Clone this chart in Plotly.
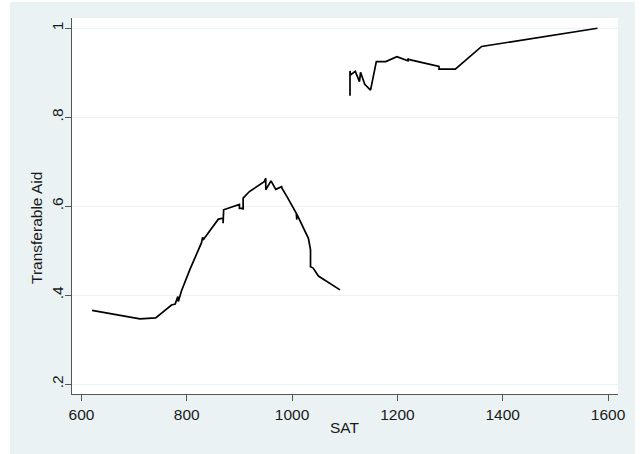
import plotly.graph_objects as go

# Smoothed transferable-aid share by SAT score (two segments, gap between them)
sat_low = [620, 711, 741, 771, 778, 783, 784, 790, 806, 828, 830, 832, 860, 869, 869, 870,
           900, 900, 907, 907, 907, 919, 939, 947, 950, 950, 960, 969, 980, 981, 990,
           1008, 1009, 1009, 1031, 1034, 1035, 1035, 1040, 1050, 1091]
aid_low = [0.366, 0.347, 0.349, 0.378, 0.380, 0.397, 0.386, 0.410, 0.458, 0.518, 0.530, 0.526,
           0.571, 0.573, 0.562, 0.592, 0.604, 0.595, 0.595, 0.592, 0.618, 0.633, 0.650, 0.655,
           0.663, 0.637, 0.657, 0.638, 0.644, 0.640, 0.622, 0.584, 0.570, 0.582, 0.528, 0.502,
           0.502, 0.464, 0.461, 0.443, 0.412]

sat_high = [1110, 1110, 1111, 1120, 1128, 1130, 1138, 1149, 1160, 1178, 1199, 1220, 1220,
            1221, 1279, 1279, 1310, 1360, 1580]
aid_high = [0.848, 0.904, 0.895, 0.903, 0.880, 0.901, 0.874, 0.861, 0.925, 0.925, 0.936,
            0.927, 0.932, 0.930, 0.914, 0.908, 0.908, 0.959, 1.000]

x_ticks = [600, 800, 1000, 1200, 1400, 1600]
y_ticks = [0.2, 0.4, 0.6, 0.8, 1.0]
y_tick_text = [".2", ".4", ".6", ".8", "1"]

BG = "#EAF2F3"
FONT = "Liberation Sans, Arial, Helvetica, sans-serif"

fig = go.Figure()
fig.add_trace(go.Scatter(
    x=sat_low + [None] + sat_high,
    y=aid_low + [None] + aid_high,
    mode="lines",
    line=dict(color="#000000", width=1.7),
    connectgaps=False,
    showlegend=False,
))

axis_common = dict(
    showline=True, linecolor="#555555", linewidth=1,
    ticks="outside", ticklen=6, tickcolor="#555555", tickwidth=1,
    tickfont=dict(family=FONT, size=15.5, color="#1a1a1a"),
    zeroline=False,
)

fig.update_xaxes(
    range=[582, 1619], tickvals=x_ticks, showgrid=False, **axis_common,
)
fig.update_yaxes(
    range=[0.178, 1.023], tickvals=y_ticks, ticktext=y_tick_text, tickangle=-90,
    ticklabelstandoff=-4,
    showgrid=True, gridcolor=BG, gridwidth=1, **axis_common,
)

fig.update_layout(
    width=642, height=454,
    margin=dict(l=72, r=24, t=18, b=60),
    paper_bgcolor=BG, plot_bgcolor="#FFFFFF",
    font=dict(family=FONT, size=15.5, color="#1a1a1a"),
    annotations=[
        dict(text="Transferable Aid", textangle=-90, xref="paper", yref="paper",
             x=-0.0641, y=0.4415, xanchor="center", yanchor="middle", showarrow=False,
             font=dict(family=FONT, size=15.5, color="#1a1a1a")),
        dict(text="SAT", xref="paper", yref="paper",
             x=(344.7 - 72) / 546, y=(394 - 427) / 376, xanchor="center", yanchor="middle",
             showarrow=False, font=dict(family=FONT, size=15.5, color="#1a1a1a")),
    ],
    shapes=[
        # white border strips around the shaded graph region
        dict(type="rect", xref="paper", yref="paper", layer="above", line_width=0,
             fillcolor="#FFFFFF", x0=-72 / 546, x1=-62 / 546, y0=-60 / 376, y1=436 / 376),
        dict(type="rect", xref="paper", yref="paper", layer="above", line_width=0,
             fillcolor="#FFFFFF", x0=-72 / 546, x1=570 / 546, y0=392 / 376, y1=436 / 376),
        dict(type="rect", xref="paper", yref="paper", layer="above", line_width=0,
             fillcolor="#FFFFFF", x0=563 / 546, x1=570 / 546, y0=-60 / 376, y1=436 / 376),
    ],
)

fig.write_html("out.html")
